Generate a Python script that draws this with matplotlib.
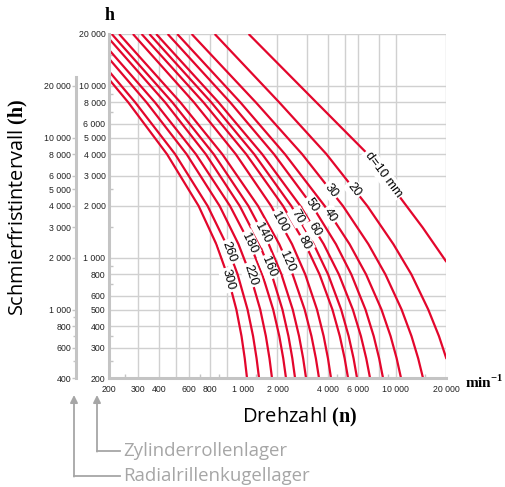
import numpy as np
import matplotlib.pyplot as plt
from matplotlib.lines import Line2D
from matplotlib.ticker import FixedLocator, NullFormatter

plt.rcParams['mathtext.fontset'] = 'custom'
plt.rcParams['mathtext.bf'] = 'Liberation Serif:bold'
plt.rcParams['mathtext.rm'] = 'Liberation Serif'

# curves: speed n (min^-1) and interval h (inner scale)
diameters = [300, 260, 220, 180, 160, 140, 120, 100, 80, 70, 60, 50, 40, 30, 20, 10]
h_std = [8000, 4000, 2000, 1200, 800, 500, 350, 260, 200]

n_d300 = [200, 262, 444, 683, 869, 1007, 1142, 1225, 1280, 1320]
h_d300 = [11000] + h_std
n_d260 = [200, 288, 496, 772, 995, 1162, 1330, 1434, 1504, 1555]
h_d260 = [12240] + h_std
n_d220 = [200, 336, 580, 909, 1175, 1377, 1581, 1707, 1793, 1855]
h_d220 = [14500] + h_std
n_d180 = [200, 377, 658, 1048, 1374, 1626, 1886, 2050, 2163, 2245]
h_d180 = [16320] + h_std
n_d160 = [200, 433, 753, 1196, 1564, 1848, 2139, 2322, 2448, 2540]
h_d160 = [18940] + h_std
n_d140 = [209, 478, 839, 1346, 1775, 2111, 2461, 2683, 2837, 2950]
h_d140 = [20000] + h_std
n_d120 = [231, 533, 943, 1534, 2048, 2459, 2895, 3177, 3374, 3520]
h_d120 = [20000] + h_std
n_d100 = [279, 642, 1133, 1834, 2438, 2919, 3426, 3751, 3978, 4145]
h_d100 = [20000] + h_std
n_d80 = [314, 730, 1306, 2158, 2921, 3547, 4227, 4675, 4993, 5230]
h_d80 = [20000] + h_std
n_d70 = [349, 812, 1456, 2414, 3275, 3986, 4761, 5274, 5638, 5910]
h_d70 = [20000] + h_std
n_d60 = [383, 897, 1624, 2730, 3753, 4617, 5582, 6232, 6701, 7055]
h_d60 = [20000] + h_std
n_d50 = [448, 1051, 1907, 3217, 4435, 5470, 6632, 7420, 7989, 8420]
h_d50 = [20000] + h_std
n_d40 = [510, 1207, 2215, 3806, 5340, 6687, 8248, 9338, 10143, 10760]
h_d40 = [20000] + h_std
n_d30 = [621, 1490, 2800, 4880, 6900, 8700, 10850, 12415, 13598, 14520]
h_d30 = [20000] + h_std
n_d20 = [850, 2050, 3900, 6800, 9700, 12400, 15600, 18050, 20000]
h_d20 = [20000, 8000, 4000, 2000, 1200, 800, 500, 350, 258]
n_d10 = [1350, 3400, 6850, 11600, 14450, 20000]
h_d10 = [20000, 8000, 4000, 2000, 1500, 945]

curves_n = [n_d300, n_d260, n_d220, n_d180, n_d160, n_d140, n_d120, n_d100,
            n_d80, n_d70, n_d60, n_d50, n_d40, n_d30, n_d20, n_d10]
curves_h = [h_d300, h_d260, h_d220, h_d180, h_d160, h_d140, h_d120, h_d100,
            h_d80, h_d70, h_d60, h_d50, h_d40, h_d30, h_d20, h_d10]

x_grid = [300, 400, 500, 600, 800, 1000, 2000, 3000, 4000, 5000, 6000, 8000, 10000, 20000]
x_labels = [200, 300, 400, 600, 800, 2000, 4000, 6000, 10000, 20000]
x_minor = [250, 700, 900, 1500, 4500, 9000, 15000]
y_ticks = [200, 300, 400, 500, 600, 800, 1000, 2000, 3000, 4000, 5000, 6000, 8000, 10000, 20000]
y_minor = [250, 350, 700, 900, 1500, 2500, 7000, 9000, 15000]
y2_ticks = [400, 600, 800, 1000, 2000, 3000, 4000, 5000, 6000, 8000, 10000, 20000]
y2_minor = [500, 700, 900]

# where the size labels sit along each curve (inner h)
label_h = [743, 1081, 794, 1219, 884, 1393, 945, 1614, 1219, 1727, 1470, 2028, 1773, 2450, 2500, 3050]

RED = '#e3062c'
GRID = '#d0d0d0'
AXC = '#c4c4c4'
GRAY_TXT = '#a6a6a6'
W, H = 506, 487


def fmt(v):
    return f"{v:,}".replace(",", " ")


def box(x0, y0, x1, y1):
    return [x0 / W, 1 - y1 / H, (x1 - x0) / W, (y1 - y0) / H]


fig = plt.figure(figsize=(W / 100, H / 100), dpi=100)
ax = fig.add_axes(box(108.5, 34, 446.5, 378))
ax.set_xscale('log')
ax.set_yscale('log')
ax.set_xlim(200, 20000)
ax.set_ylim(200, 20000)
ax.patch.set_alpha(0)

ax.vlines(x_grid, 200, 20000, color=GRID, lw=1.0, zorder=1)
ax.hlines(y_ticks[1:], 200, 20000, color=GRID, lw=1.0, zorder=1)

for s in ['top', 'right']:
    ax.spines[s].set_visible(False)
for s in ['left', 'bottom']:
    ax.spines[s].set_color(AXC)
    ax.spines[s].set_linewidth(2.2)
    ax.spines[s].set_zorder(5)

ax.set_xticks(x_labels, [fmt(v) for v in x_labels])
ax.set_yticks(y_ticks, [fmt(v) for v in y_ticks])
ax.xaxis.set_minor_locator(FixedLocator(x_minor))
ax.yaxis.set_minor_locator(FixedLocator(y_minor))
ax.xaxis.set_minor_formatter(NullFormatter())
ax.yaxis.set_minor_formatter(NullFormatter())
ax.tick_params(which='major', length=0, labelsize=6.3, labelcolor='#222222')
ax.tick_params(axis='x', which='major', pad=5)
ax.tick_params(axis='y', which='major', pad=2.2)
ax.tick_params(which='minor', direction='in', length=3, width=1, color=AXC)
for t in ax.get_xticklabels() + ax.get_yticklabels():
    t.set_fontfamily('Liberation Sans')
ax.annotate('1 000', xy=(1000, 0), xycoords=('data', 'axes fraction'),
            xytext=(11.5, -5.2), textcoords='offset points', ha='center', va='top',
            fontsize=6.3, color='#222222', family='Liberation Sans')

# outer scale (Radialrillenkugellager = 2x)
ax2 = fig.add_axes(box(76.5, 34, 77.5, 378))
ax2.set_yscale('log')
ax2.set_ylim(400, 40000)
ax2.patch.set_alpha(0)
ax2.xaxis.set_visible(False)
for s in ['top', 'right', 'bottom']:
    ax2.spines[s].set_visible(False)
ax2.spines['left'].set_color(AXC)
ax2.spines['left'].set_linewidth(2.2)
ax2.spines['left'].set_bounds(400, 22500)
ax2.set_yticks(y2_ticks, [fmt(v) for v in y2_ticks])
ax2.yaxis.set_minor_locator(FixedLocator(y2_minor))
ax2.yaxis.set_minor_formatter(NullFormatter())
ax2.tick_params(which='major', direction='out', length=3, width=1, color=AXC,
                pad=1, labelsize=6.3, labelcolor='#222222')
ax2.tick_params(which='minor', direction='out', length=2.5, width=1, color=AXC)
for t in ax2.get_yticklabels():
    t.set_fontfamily('Liberation Sans')

# curves
for n, h in zip(curves_n, curves_h):
    ax.plot(n, h, color=RED, lw=1.6, zorder=3, solid_capstyle='butt')

# inline labels
for d, n, h, hl in zip(diameters, curves_n, curves_h, label_h):
    lh = np.log10(h)[::-1]
    ln = np.log10(n)[::-1]
    x = 10 ** np.interp(np.log10(hl), lh, ln)
    xa = 10 ** np.interp(np.log10(hl * 1.08), lh, ln)
    xb = 10 ** np.interp(np.log10(hl / 1.08), lh, ln)
    pa = ax.transData.transform((xa, hl * 1.08))
    pb = ax.transData.transform((xb, hl / 1.08))
    ang = np.degrees(np.arctan2(pb[1] - pa[1], pb[0] - pa[0]))
    txt = 'd=10 mm' if d == 10 else str(d)
    ax.text(x, hl, txt, rotation=ang, rotation_mode='anchor', ha='center', va='center',
            fontsize=9.2, family='Liberation Sans', color='black', zorder=4,
            bbox=dict(facecolor='white', edgecolor='none', pad=1.4))

# titles
fig.text(110 / W, 1 - 15 / H, 'h', family='Liberation Serif', weight='bold',
         fontsize=13, ha='center', va='center')
fig.text(465 / W, 1 - 382 / H, r'$\mathbf{min}^{\mathbf{-1}}$', fontsize=11,
         ha='left', va='center')
fig.text(300 / W, 1 - 417 / H, r'Drehzahl $\mathbf{(n)}$', family='Open Sans',
         fontsize=14.5, ha='center', va='center')
fig.text(18 / W, 1 - 208 / H, r'Schmierfristintervall $\mathbf{(h)}$', family='Open Sans',
         fontsize=14.3, rotation=90, ha='center', va='center')

# bearing type pointers
for xa_, yc, label in [(74, 476, 'Radialrillenkugellager'), (97, 451, 'Zylinderrollenlager')]:
    fig.add_artist(Line2D([xa_ / W, 120 / W], [1 - yc / H, 1 - yc / H],
                          transform=fig.transFigure, color=GRAY_TXT, lw=1.3))
    plt.annotate('', xy=(xa_, H - 395), xytext=(xa_, H - yc - 0.6), xycoords='figure pixels',
                 arrowprops=dict(arrowstyle='-|>', color=GRAY_TXT, lw=1.3,
                                 mutation_scale=11, shrinkA=0, shrinkB=0))
    fig.text(123 / W, 1 - yc / H, label, family='Open Sans', fontsize=13.4,
             color=GRAY_TXT, ha='left', va='center')

fig.savefig('out.png', dpi=100)
